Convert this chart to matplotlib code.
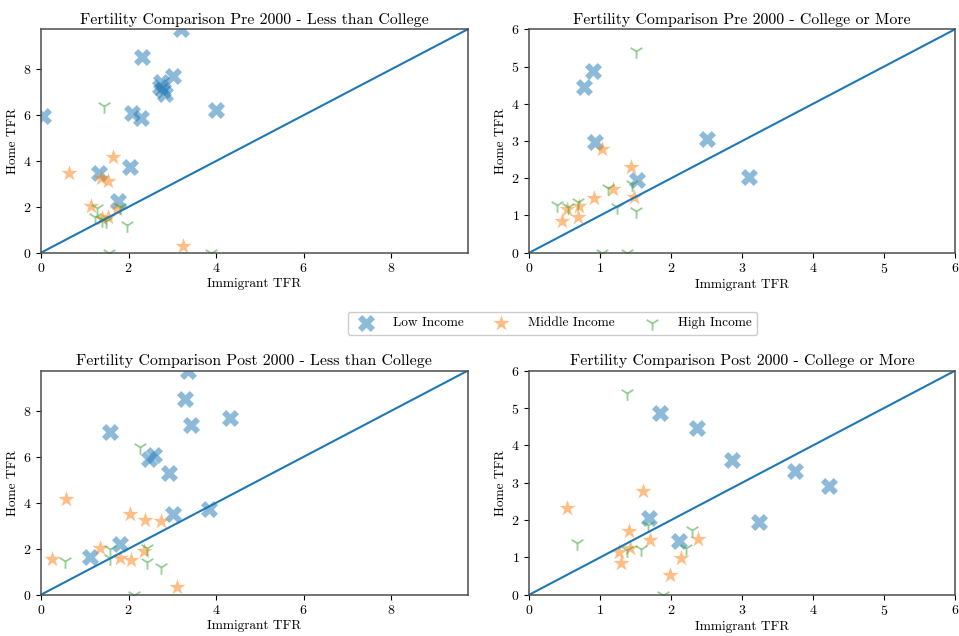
import matplotlib
matplotlib.use("Agg")
import matplotlib.pyplot as plt
import numpy as np

plt.rcParams['font.family'] = 'serif'
plt.rcParams['font.serif'] = ['cmr10', 'DejaVu Serif']
plt.rcParams['mathtext.fontset'] = 'cm'
plt.rcParams['axes.formatter.use_mathtext'] = True

# ---- data: Pre 2000 - Less than College ----
pre_lc_low_x = [0.05, 3.19, 2.30, 2.74, 3.01, 2.73, 2.79, 2.83, 2.08, 2.29, 3.99, 1.33, 2.03, 1.76]
pre_lc_low_y = [5.95, 9.75, 8.55, 7.47, 7.72, 7.25, 7.10, 6.93, 6.11, 5.90, 6.23, 3.50, 3.73, 2.26]
pre_lc_mid_x = [0.65, 1.64, 1.38, 1.52, 1.15, 1.73, 1.52, 1.40, 3.24]
pre_lc_mid_y = [3.49, 4.18, 3.25, 3.15, 2.03, 1.92, 1.57, 1.50, 0.31]
pre_lc_high_x = [1.44, 1.28, 1.81, 1.97, 1.24, 1.39, 1.49, 1.56, 3.89]
pre_lc_high_y = [6.41, 1.94, 2.01, 1.21, 1.57, 1.43, 1.40, 0.00, 0.00]

# ---- data: Pre 2000 - College or More ----
pre_c_low_x = [0.77, 0.90, 0.93, 1.52, 2.51, 3.09]
pre_c_low_y = [4.46, 4.88, 2.96, 1.95, 3.05, 2.04]
pre_c_mid_x = [1.02, 1.43, 1.18, 0.91, 1.48, 0.70, 0.53, 0.46, 0.69]
pre_c_mid_y = [2.78, 2.31, 1.70, 1.46, 1.49, 1.26, 1.17, 0.86, 0.97]
pre_c_high_x = [1.50, 0.39, 0.54, 0.69, 1.11, 1.45, 1.23, 1.51, 1.02, 1.37]
pre_c_high_y = [5.43, 1.28, 1.24, 1.37, 1.73, 1.85, 1.22, 1.13, 0.00, 0.00]

# ---- data: Post 2000 - Less than College ----
post_lc_low_x = [3.36, 3.30, 1.57, 3.42, 4.33, 2.46, 2.59, 2.92, 3.01, 3.84, 1.80, 1.12]
post_lc_low_y = [9.75, 8.53, 7.07, 7.40, 7.70, 5.91, 6.10, 5.30, 3.52, 3.73, 2.21, 1.66]
post_lc_mid_x = [0.57, 2.03, 2.37, 2.75, 0.26, 1.34, 2.36, 1.81, 2.06, 3.10]
post_lc_mid_y = [4.16, 3.51, 3.26, 3.19, 1.54, 2.02, 1.92, 1.59, 1.51, 0.32]
post_lc_high_x = [2.27, 0.55, 1.58, 1.57, 2.42, 2.42, 2.75, 2.13]
post_lc_high_y = [6.43, 1.45, 1.97, 1.60, 2.02, 1.44, 1.22, 0.00]

# ---- data: Post 2000 - College or More ----
post_c_low_x = [1.84, 2.37, 2.86, 3.75, 4.22, 3.24, 1.69, 2.11]
post_c_low_y = [4.88, 4.46, 3.61, 3.31, 2.92, 1.94, 2.05, 1.44]
post_c_mid_x = [0.53, 1.60, 1.40, 1.70, 2.38, 1.27, 1.42, 1.29, 2.14, 1.99]
post_c_mid_y = [2.31, 2.78, 1.71, 1.47, 1.49, 1.15, 1.24, 0.86, 0.98, 0.52]
post_c_high_x = [1.37, 0.67, 1.68, 2.30, 1.37, 1.58, 2.21, 1.89]
post_c_high_y = [5.41, 1.38, 1.86, 1.73, 1.20, 1.22, 1.24, 0.00]

titles = ["Fertility Comparison Pre 2000 - Less than College",
          "Fertility Comparison Pre 2000 - College or More",
          "Fertility Comparison Post 2000 - Less than College",
          "Fertility Comparison Post 2000 - College or More"]
limits = [9.75, 6.0, 9.75, 6.0]
group_labels = ["Low Income", "Middle Income", "High Income"]

panels = [
    [(pre_lc_low_x, pre_lc_low_y), (pre_lc_mid_x, pre_lc_mid_y), (pre_lc_high_x, pre_lc_high_y)],
    [(pre_c_low_x, pre_c_low_y), (pre_c_mid_x, pre_c_mid_y), (pre_c_high_x, pre_c_high_y)],
    [(post_lc_low_x, post_lc_low_y), (post_lc_mid_x, post_lc_mid_y), (post_lc_high_x, post_lc_high_y)],
    [(post_c_low_x, post_c_low_y), (post_c_mid_x, post_c_mid_y), (post_c_high_x, post_c_high_y)],
]

W, H = 959, 636
fig = plt.figure(figsize=(W / 100, H / 100), dpi=100)

boxes = [
    (41, 29.3, 467.7, 252.7),
    (529.3, 29.3, 955, 252.7),
    (41, 370.7, 467.7, 594.7),
    (529.3, 370.7, 955, 594.7),
]

markers = ['X', '*', '1']
sizes = [150, 150, 110]
colors = ['C0', 'C1', 'C2']

handles = None
for i, (box, groups) in enumerate(zip(boxes, panels)):
    x0, y0, x1, y1 = box
    ax = fig.add_axes([x0 / W, 1 - y1 / H, (x1 - x0) / W, (y1 - y0) / H])
    hs = []
    for (gx, gy), m, s, c, lab in zip(groups, markers, sizes, colors, group_labels):
        h = ax.scatter(gx, gy, marker=m, s=s, color=c, alpha=0.5, label=lab,
                       linewidths=1.3 if m == '1' else 0.0)
        hs.append(h)
    lim = limits[i]
    ax.plot([0, lim], [0, lim], color='C0', lw=1.5)
    ax.set_xlim(0, lim)
    ax.set_ylim(0, lim)
    ax.set_title(titles[i], fontsize=11.4, pad=4)
    ax.set_xlabel("Immigrant TFR", fontsize=9.6, labelpad=2)
    ax.set_ylabel("Home TFR", fontsize=9.6, labelpad=3)
    ax.tick_params(labelsize=10, length=3.5)
    for sp in ax.spines.values():
        sp.set_color('0.3')
        sp.set_linewidth(1.1)
    if handles is None:
        handles = hs

fig.legend(handles, group_labels, ncol=3, loc='center',
           bbox_to_anchor=(552.5 / W, 1 - 323 / H), fontsize=9.6,
           columnspacing=1.8, handletextpad=1.0, framealpha=1.0, edgecolor='0.8')

fig.savefig("out.png", dpi=100)
